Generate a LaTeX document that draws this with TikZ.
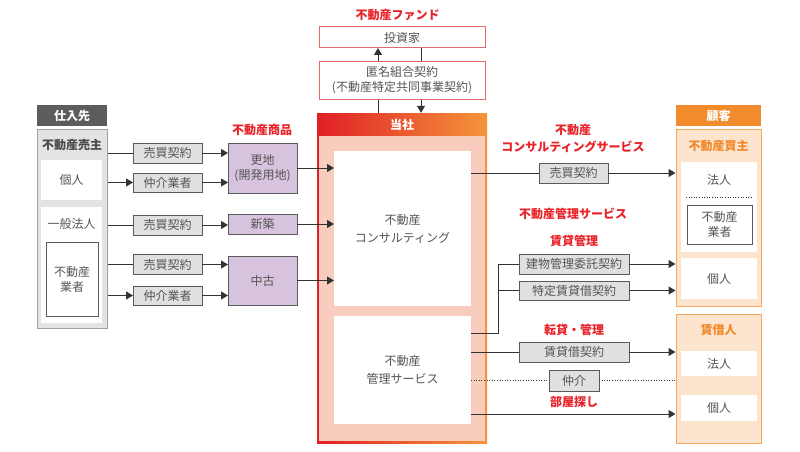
\documentclass[tikz,border=0pt]{standalone}
\usepackage{fontspec}
\setmainfont{Noto Sans CJK JP}
\usetikzlibrary{arrows.meta}
\definecolor{txt}{HTML}{555555}
\definecolor{txtd}{HTML}{4A4A4A}
\definecolor{dgray}{HTML}{5A5A5A}
\definecolor{cgray}{HTML}{E0E0E0}
\definecolor{hgray}{HTML}{5C5C5C}
\definecolor{lgray}{HTML}{E3E3E3}
\definecolor{bgray}{HTML}{A0A0A0}
\definecolor{purp}{HTML}{D8C3DE}
\definecolor{lred}{HTML}{E8232A}
\definecolor{fundb}{HTML}{E26A6A}
\definecolor{gred}{HTML}{E01F26}
\definecolor{gorg}{HTML}{F5953A}
\definecolor{salmon}{HTML}{F8CDBD}
\definecolor{org}{HTML}{F28B2B}
\definecolor{orgt}{HTML}{F0892A}
\definecolor{peach}{HTML}{FDE4CE}
\definecolor{peachb}{HTML}{F6A75E}
\definecolor{lk}{HTML}{333333}
\newcommand\myfs{\fontsize{12pt}{15pt}\selectfont}
\tikzset{
  base/.style={inner sep=0pt, outer sep=0pt, font=\myfs, text=txt, align=center},
  ctr/.style={base, draw=dgray, fill=cgray, line width=0.9pt, minimum height=20pt},
  prp/.style={base, draw=dgray, fill=purp, line width=0.9pt, minimum width=69pt},
  wbox/.style={base, fill=white},
  redlbl/.style={base, font=\bfseries\myfs, text=lred},
  orglbl/.style={base, font=\bfseries\myfs, text=orgt},
  conn/.style={draw=lk, line width=1pt},
  arr/.style={conn, -{Triangle[length=7pt,width=8pt]}},
  dotln/.style={draw=lk, line width=1pt, dash pattern=on 1pt off 1.6pt},
}
\begin{document}
\begin{tikzpicture}[x=1pt,y=-1pt]
\useasboundingbox (0,0) rectangle (800,452);
\fill[white] (0,0) rectangle (800,452);

% ---------- left: suppliers ----------
\node[base, fill=hgray, text=white, font=\bfseries\myfs, minimum width=70pt, minimum height=21pt] (hdrL) at (72,115.5) {仕入先};
\node[draw=bgray, fill=lgray, line width=1pt, minimum width=70pt, minimum height=199pt, inner sep=0pt] (src) at (72,228.5) {};
\node[base, font=\bfseries\myfs, text=txtd] (srcT) at (72,145) {不動産売主};
\node[wbox, minimum width=61pt, minimum height=40pt] (sK) at (71.5,180) {個人};
\node[wbox, minimum width=61pt, minimum height=116pt] (sH) at (71.5,265) {};
\node[base] (sHT) at (71.5,224) {一般法人};
\node[base, draw=dgray, line width=0.9pt, fill=white, minimum width=52pt, minimum height=74pt] (sG) at (72,279) {不動産\\業者};

% contracts (left)
\node[ctr, minimum width=69pt] (k1) at (167.5,153) {売買契約};
\node[ctr, minimum width=69pt, minimum height=19pt] (n1) at (167.5,182.5) {仲介業者};
\node[ctr, minimum width=69pt] (k2) at (167.5,225) {売買契約};
\node[ctr, minimum width=69pt] (k3) at (167.5,264.5) {売買契約};
\node[ctr, minimum width=69pt, minimum height=19pt] (n2) at (167.5,295.5) {仲介業者};

% products
\node[redlbl] (prodT) at (262,130) {不動産商品};
\node[prp, minimum height=50pt] (p1) at (262.5,168) {更地\\(開発用地)};
\node[prp, minimum height=20pt] (p2) at (262.5,224) {新築};
\node[prp, minimum height=49pt] (p3) at (262.5,280.5) {中古};

\draw[conn] (src.east |- k1.west) -- (k1.west);
\draw[arr] (src.east |- n1.west) -- (n1.west);
\draw[conn] (src.east |- k2.west) -- (k2.west);
\draw[conn] (src.east |- k3.west) -- (k3.west);
\draw[arr] (src.east |- n2.west) -- (n2.west);
\draw[arr] (k1.east) -- (p1.west |- k1.east);
\draw[arr] (n1.east) -- (p1.west |- n1.east);
\draw[arr] (k2.east) -- (p2.west |- k2.east);
\draw[arr] (k3.east) -- (p3.west |- k3.east);
\draw[arr] (n2.east) -- (p3.west |- n2.east);

% ---------- fund ----------
\node[redlbl] (fundT) at (397.5,15) {不動産ファンド};
\node[base, draw=fundb, fill=white, line width=1pt, minimum width=166pt, minimum height=21pt] (inv) at (402,37.5) {投資家};

% ---------- company ----------
\node[left color=gred, right color=gorg, minimum width=170pt, minimum height=330pt, inner sep=0pt] (co) at (402,278) {};
\node[fill=salmon, minimum width=166pt, minimum height=305pt, inner sep=0pt] (coin) at (402,288.5) {};
\node[base, text=white, font=\bfseries\myfs] (coT) at (402,124.5) {当社};
\node[wbox, minimum width=137pt, minimum height=155pt] (cons) at (402.5,228.5) {不動産\\[3pt]コンサルティング};
\node[wbox, minimum width=137pt, minimum height=108pt] (mgmt) at (402.5,370) {不動産\\[3pt]管理サービス};

\coordinate (fu) at (378,0);
\coordinate (fd) at (421,0);
\draw[arr] (co.north -| fu) -- (inv.south -| fu);
\draw[arr] (inv.south -| fd) -- (co.north -| fd);
\node[base, draw=fundb, fill=white, line width=1pt, minimum width=166pt, minimum height=37pt] (tok) at (402,80.5) {匿名組合契約\\(不動産特定共同事業契約)};

\draw[arr] (p1.east) -- (cons.west |- p1.east);
\draw[arr] (p2.east) -- (cons.west |- p2.east);
\draw[arr] (p3.east) -- (cons.west |- p3.east);

% ---------- customers ----------
\node[base, fill=org, text=white, font=\bfseries\myfs, minimum width=85pt, minimum height=21pt] (hdrR) at (718.5,115.5) {顧客};
\node[draw=peachb, fill=peach, line width=1pt, minimum width=85pt, minimum height=177pt, inner sep=0pt] (buyer) at (718.5,217.5) {};
\node[orglbl] (buyerT) at (718.5,146) {不動産買主};
\node[wbox, minimum width=76pt, minimum height=90pt] (bw1) at (719,207) {};
\node[base] (bw1T) at (719,180) {法人};
\draw[dotln] (686,197) -- (753,197);
\node[base, draw=dgray, line width=0.9pt, fill=white, minimum width=65pt, minimum height=39pt] (bG) at (719.5,224.5) {不動産\\業者};
\node[wbox, minimum width=76pt, minimum height=41pt] (bw2) at (719,278.5) {個人};

\node[draw=peachb, fill=peach, line width=1pt, minimum width=85pt, minimum height=129pt, inner sep=0pt] (ten) at (718.5,378.5) {};
\node[orglbl] (tenT) at (718.5,330) {賃借人};
\node[wbox, minimum width=76pt, minimum height=25pt] (tw1) at (719,363.5) {法人};
\node[wbox, minimum width=76pt, minimum height=26pt] (tw2) at (719,408) {個人};

% ---------- right-side services ----------
\node[redlbl] (csT) at (573,138.5) {不動産\\[2pt]コンサルティングサービス};
\node[ctr, minimum width=69pt] (r1) at (573.5,173) {売買契約};
\draw[conn] (cons.east |- r1.west) -- (r1.west);
\draw[arr] (r1.east) -- (buyer.west |- r1.east);

\node[redlbl] (msT) at (573,214) {不動産管理サービス};
\node[redlbl] (chT) at (574,241) {賃貸管理};
\node[ctr, minimum width=110pt] (b1) at (574,264) {建物管理委託契約};
\node[ctr, minimum width=110pt, minimum height=19pt] (b2) at (574,290.5) {特定賃貸借契約};
\coordinate (bj) at (498,333);
\draw[conn] (mgmt.east |- bj) -- (bj) -- (bj |- b1.west) -- (b1.west);
\draw[conn] (bj |- b2.west) -- (b2.west);
\draw[arr] (b1.east) -- (buyer.west |- b1.east);
\draw[arr] (b2.east) -- (buyer.west |- b2.east);

\node[redlbl] (tkT) at (574,330) {転貸・管理};
\node[ctr, minimum width=110pt] (m1) at (574,352) {賃貸借契約};
\draw[conn] (mgmt.east |- m1.west) -- (m1.west);
\draw[arr] (m1.east) -- (ten.west |- m1.east);

\node[ctr, minimum width=50pt, minimum height=21pt] (m2) at (574,380.5) {仲介};
\draw[dotln] (mgmt.east |- m2.west) -- (m2.west);
\draw[dotln] (m2.east) -- (ten.west |- m2.east);

\node[redlbl] (hsT) at (574,402) {部屋探し};
\coordinate (hy) at (0,414);
\draw[arr] (mgmt.east |- hy) -- (ten.west |- hy);
\end{tikzpicture}
\end{document}
